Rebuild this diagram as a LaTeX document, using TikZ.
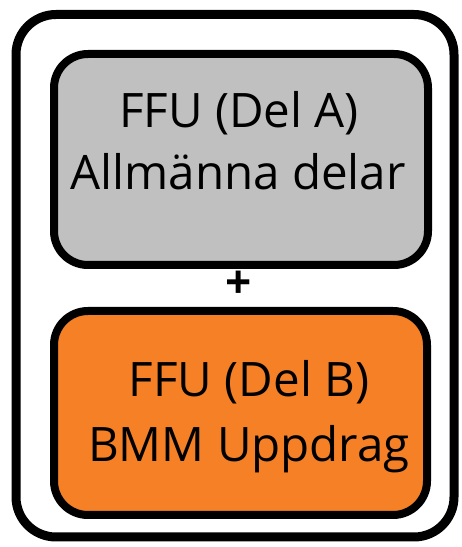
\documentclass[tikz,border=0pt]{standalone}
\usepackage{fontspec}
\setmainfont{Open Sans}
\definecolor{boxgray}{RGB}{192,192,192}
\definecolor{boxorange}{RGB}{245,128,37}
\tikzset{
  outerbox/.style={draw=black, line width=9pt, rounded corners=40pt},
  innerbox/.style={draw=black, line width=8pt, rounded corners=34pt},
  lbl/.style={inner sep=0pt, anchor=base, font=\fontsize{47.5}{50}\selectfont}
}
\begin{document}
\begin{tikzpicture}[x=1pt,y=1pt]
\useasboundingbox (0,0) rectangle (462,547);
\draw[outerbox] (16,10) rectangle (454,532.5);
\draw[innerbox, fill=boxgray] (54,282) rectangle (428,493);
\draw[innerbox, fill=boxorange] (54,32) rectangle (427,236);
\node[lbl] (a1) at (239,419) {FFU (Del A)};
\node[lbl] (a2) at (238,357) {Allmänna delar};
\node[inner sep=0pt, font=\fontsize{46}{46}\selectfont\bfseries] (plus) at (239,262) {+};
\node[lbl] (b1) at (249,150) {FFU (Del B)};
\node[lbl] (b2) at (249,85) {BMM Uppdrag};
\end{tikzpicture}
\end{document}
